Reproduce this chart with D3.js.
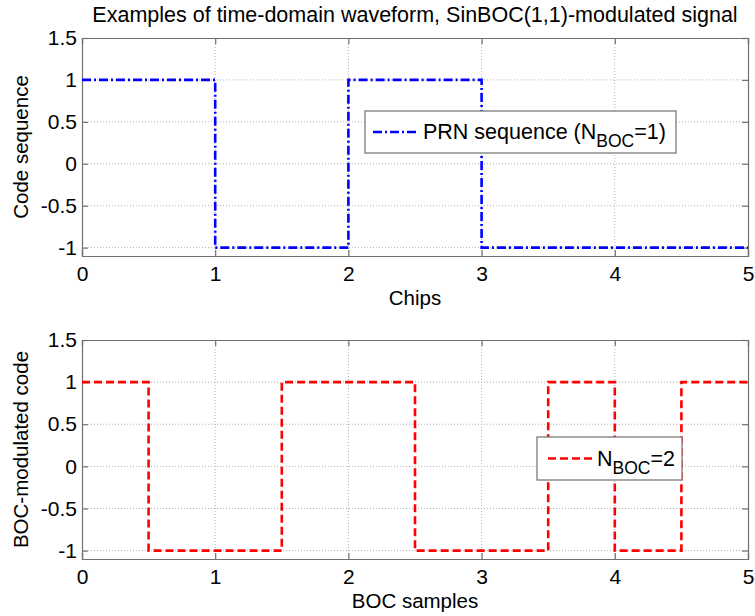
<!DOCTYPE html>
<html><head><meta charset="utf-8">
<script src="https://cdn.jsdelivr.net/npm/d3@7"></script>
<style>body{margin:0;background:#fff}svg{display:block}</style>
</head><body>
<svg id="c" width="755" height="616"></svg>
<script>
// data
const prnX = [0, 1, 1, 2, 2, 3, 3, 5];
const prnY = [1, 1, -1, -1, 1, 1, -1, -1];
const bocX = [0, 0.5, 0.5, 1.5, 1.5, 2.5, 2.5, 3.5, 3.5, 4, 4, 4.5, 4.5, 5];
const bocY = [1, 1, -1, -1, 1, 1, -1, -1, 1, 1, -1, -1, 1, 1];
const xTicks = [0, 1, 2, 3, 4, 5];
const yTicks = [-1, -0.5, 0, 0.5, 1, 1.5];
const titleText = "Examples of time-domain waveform, SinBOC(1,1)-modulated signal";

const svg = d3.select("#c");
const FONT = "Liberation Sans, Arial, Helvetica, sans-serif";
const L = 82, R = 748;

function panel(top, bottom, xs, ys, color, dash, ylabel, xlabel, legend) {
  const x = d3.scaleLinear().domain([0, 5]).range([L, R]);
  const y = d3.scaleLinear().domain([-1.1, 1.5]).range([bottom, top]);
  const g = svg.append("g");
  // grid
  g.selectAll(".gx").data(xTicks.slice(1, -1)).enter().append("line")
    .attr("x1", d => x(d)).attr("x2", d => x(d)).attr("y1", top).attr("y2", bottom)
    .attr("stroke", "#b0b0b0").attr("stroke-width", 1).attr("stroke-dasharray", "1,2");
  g.selectAll(".gy").data(yTicks.slice(0, -1)).enter().append("line")
    .attr("y1", d => y(d)).attr("y2", d => y(d)).attr("x1", L).attr("x2", R)
    .attr("stroke", "#b0b0b0").attr("stroke-width", 1).attr("stroke-dasharray", "1,2");
  // axes
  const ax = d3.axisBottom(x).tickValues(xTicks).tickSize(-6).tickPadding(10).tickFormat(d => String(d));
  const ay = d3.axisLeft(y).tickValues(yTicks).tickSize(-6).tickPadding(5).tickFormat(d => String(d));
  const axT = d3.axisTop(x).tickValues(xTicks).tickSize(-6).tickFormat("");
  const ayR = d3.axisRight(y).tickValues(yTicks).tickSize(-6).tickFormat("");
  [[ax, `translate(0,${bottom})`], [ay, `translate(${L},0)`], [axT, `translate(0,${top})`], [ayR, `translate(${R},0)`]].forEach(([a, t]) => {
    const s = g.append("g").attr("transform", t).call(a);
    s.select(".domain").attr("stroke", "#707070").attr("stroke-width", 1.2);
    s.selectAll(".tick line").attr("stroke", "#707070").attr("stroke-width", 1.2);
    s.selectAll("text").attr("fill", "#000").style("font-family", FONT).style("font-size", "21px");
  });
  // line
  const pts = xs.map((v, i) => [v, ys[i]]);
  g.append("path").datum(pts)
    .attr("d", d3.line().x(d => x(d[0])).y(d => y(d[1])))
    .attr("fill", "none").attr("stroke", color).attr("stroke-width", 2.6)
    .attr("stroke-dasharray", dash);
  // labels
  g.append("text").attr("x", (L + R) / 2).attr("y", bottom + 49).attr("text-anchor", "middle")
    .style("font-family", FONT).style("font-size", "20.5px").text(xlabel);
  g.append("text").attr("transform", `translate(28,${(top + bottom) / 2}) rotate(-90)`).attr("text-anchor", "middle")
    .style("font-family", FONT).style("font-size", "20.5px").text(ylabel);
  // legend
  const lg = g.append("g");
  lg.append("rect").attr("x", legend.x0).attr("y", legend.y0).attr("width", legend.x1 - legend.x0).attr("height", legend.y1 - legend.y0)
    .attr("fill", "#fff").attr("stroke", "#707070").attr("stroke-width", 1.2);
  const ly = (legend.y0 + legend.y1) / 2;
  lg.append("line").attr("x1", legend.lx0).attr("x2", legend.lx1).attr("y1", ly).attr("y2", ly)
    .attr("stroke", color).attr("stroke-width", 2.6).attr("stroke-dasharray", dash);
  const t = lg.append("text").attr("x", legend.lx1 + 5).attr("y", ly + 7)
    .style("font-family", FONT).style("font-size", "21.5px");
  t.append("tspan").text(legend.pre + "N");
  t.append("tspan").attr("dy", 8).style("font-size", "17.5px").text("BOC");
  t.append("tspan").attr("dy", -8).text(legend.post);
}

svg.append("text").attr("x", 415).attr("y", 22).attr("text-anchor", "middle")
  .style("font-family", FONT).style("font-size", "21.5px").text(titleText);

panel(38, 256, prnX, prnY, "#0000ff", "9,3,2,3", "Code sequence", "Chips",
  {x0: 365, x1: 676, y0: 111, y1: 153, lx0: 373, lx1: 418, pre: "PRN sequence (", post: "=1)"});
panel(340, 559, bocX, bocY, "#ff0000", "8,4", "BOC-modulated code", "BOC samples",
  {x0: 537, x1: 682, y0: 437, y1: 480, lx0: 548, lx1: 592, pre: "", post: "=2"});
</script>
</body></html>
